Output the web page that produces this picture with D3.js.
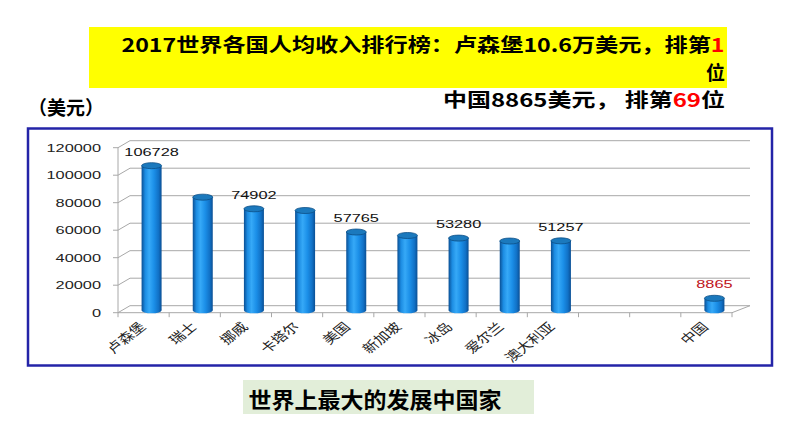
<!DOCTYPE html>
<html><head><meta charset="utf-8">
<script src="https://cdn.jsdelivr.net/npm/d3@7"></script>
<style>body{margin:0;background:#fff} svg{display:block}</style>
</head><body><div id="chart"></div>
<script>
// per-capita income, US$ (two empty slots before China, as in the slide)
const countries = ['卢森堡', '瑞士', '挪威', '卡塔尔', '美国', '新加坡', '冰岛', '爱尔兰', '澳大利亚', '', '', '中国'];
const incomes = [106728, 83500, 74902, 73650, 57765, 55200, 53280, 51100, 51257, null, null, 8865];
const labelled = ['卢森堡', '挪威', '美国', '冰岛', '澳大利亚', '中国'];
const yTicks = [0, 20000, 40000, 60000, 80000, 100000, 120000];

const W = 794, H = 447;
const CJK = '"Noto Sans CJK SC", "Noto Sans", sans-serif';
const LAT = '"Liberation Sans", Arial, sans-serif';
const svg = d3.select('#chart').append('svg').attr('width', W).attr('height', H);

// --- header texts
svg.append('rect').attr('x', 89).attr('y', 27).attr('width', 638).attr('height', 61).attr('fill', '#ffff00');
const t1 = svg.append('text').attr('x', 121.5).attr('y', 52).attr('font-family', CJK).attr('font-weight', 700)
  .attr('font-size', 19).attr('textLength', 603).attr('lengthAdjust', 'spacingAndGlyphs').attr('fill', '#000');
t1.append('tspan').text('2017世界各国人均收入排行榜：卢森堡10.6万美元，排第');
t1.append('tspan').attr('fill', '#ff0000').text('1');
svg.append('text').attr('x', 725).attr('y', 80).attr('text-anchor', 'end').attr('font-family', CJK)
  .attr('font-weight', 700).attr('font-size', 19).text('位');
const t3 = svg.append('text').attr('x', 443).attr('y', 107).attr('font-family', CJK).attr('font-weight', 700)
  .attr('font-size', 19).attr('textLength', 282).attr('lengthAdjust', 'spacingAndGlyphs');
t3.append('tspan').text('中国8865美元， 排第');
t3.append('tspan').attr('fill', '#ff0000').text('69');
t3.append('tspan').text('位');
svg.append('text').attr('x', 28).attr('y', 115).attr('font-family', CJK).attr('font-weight', 700)
  .attr('font-size', 19).attr('textLength', 76).attr('lengthAdjust', 'spacingAndGlyphs').text('（美元）');

// chart frame
svg.append('rect').attr('x', 28).attr('y', 128.5).attr('width', 744).attr('height', 237)
  .attr('fill', '#fff').attr('stroke', '#2424a8').attr('stroke-width', 2.5);

// --- 3d-ish plot
const x0 = 118, x1 = 732, dx = 12, dy = -7, backR = 750;
const x = d3.scaleBand().domain(d3.range(countries.length)).range([x0, x1]);
const y = d3.scaleLinear().domain([0, 120000]).range([312.7, 147.7]);
const yb = d3.scaleLinear().domain([0, 120000]).range([310.3, 147.7]); // bars sit mid-depth

const grid = svg.append('g').attr('stroke', '#a8a8a8').attr('stroke-width', 1);
yTicks.forEach(t => {
  grid.append('line').attr('x1', x0 + dx).attr('x2', backR).attr('y1', y(t) + dy).attr('y2', y(t) + dy);
  grid.append('line').attr('x1', x0).attr('x2', x0 + dx).attr('y1', y(t)).attr('y2', y(t) + dy);
  grid.append('line').attr('x1', x0 - 5).attr('x2', x0).attr('y1', y(t)).attr('y2', y(t));
});
grid.append('line').attr('x1', x0).attr('x2', x0).attr('y1', y(0)).attr('y2', y(120000));
grid.append('line').attr('x1', x0).attr('x2', x1).attr('y1', y(0)).attr('y2', y(0));
grid.append('line').attr('x1', x1).attr('x2', backR).attr('y1', y(0)).attr('y2', y(0) + dy);
d3.range(countries.length + 1).forEach(i => {
  const xx = x0 + i * x.step();
  grid.append('line').attr('x1', xx).attr('x2', xx).attr('y1', y(0)).attr('y2', y(0) + 4.5);
});

// y tick labels (source image is stretched sideways)
svg.append('g').selectAll('text').data(yTicks).join('text')
  .attr('transform', t => `translate(101,${y(t) + 4.2}) scale(1.42,1)`)
  .attr('text-anchor', 'end').attr('font-family', LAT).attr('font-size', 11.5).attr('fill', '#222')
  .text(t => t);

// cylinder gradient
const defs = svg.append('defs');
const g = defs.append('linearGradient').attr('id', 'cyl').attr('x1', 0).attr('x2', 1).attr('y1', 0).attr('y2', 0);
[[0, '#0a4f94'], [0.18, '#1c8ce2'], [0.38, '#36a9f7'], [0.62, '#1b8fe8'], [0.85, '#1171c6'], [1, '#0a4f94']]
  .forEach(([o, c]) => g.append('stop').attr('offset', o).attr('stop-color', c));

const data = countries.map((name, i) => ({ name, i, v: incomes[i] }));
const cx = d => x(d.i) + x.bandwidth() / 2 + 8;
const rx = 10, ry = 3;
const bars = svg.append('g').selectAll('g').data(data.filter(d => d.v != null)).join('g');
bars.append('ellipse').attr('cx', cx).attr('cy', yb(0)).attr('rx', rx).attr('ry', ry).attr('fill', 'url(#cyl)');
bars.append('rect').attr('x', d => cx(d) - rx).attr('width', rx * 2)
  .attr('y', d => yb(d.v)).attr('height', d => yb(0) - yb(d.v)).attr('fill', 'url(#cyl)');
bars.append('ellipse').attr('cx', cx).attr('cy', d => yb(d.v)).attr('rx', rx).attr('ry', ry)
  .attr('fill', '#1b79bd').attr('stroke', '#0d4f86').attr('stroke-width', 0.8);

// value labels
svg.append('g').selectAll('text').data(data.filter(d => labelled.includes(d.name))).join('text')
  .attr('transform', d => `translate(${cx(d)},${yb(d.v) - 10}) scale(1.42,1)`)
  .attr('text-anchor', 'middle').attr('font-family', LAT).attr('font-size', 11.5)
  .attr('fill', d => d.name === '中国' ? '#c0141c' : '#111').text(d => d.v);

// category labels, rotated
svg.append('g').selectAll('text').data(data.filter(d => d.name)).join('text')
  .attr('transform', d => `translate(${x(d.i) + x.bandwidth() / 2 + 3},${y(0) + 15}) scale(1.25,1) rotate(-45)`)
  .attr('text-anchor', 'end').attr('font-family', CJK).attr('font-size', 12.5).attr('fill', '#222')
  .text(d => d.name);

// footer box
svg.append('rect').attr('x', 243).attr('y', 380).attr('width', 291).attr('height', 34).attr('fill', '#e2eed9');
svg.append('text').attr('x', 248.5).attr('y', 408).attr('font-family', CJK).attr('font-weight', 700)
  .attr('font-size', 22).attr('textLength', 253).attr('lengthAdjust', 'spacingAndGlyphs').attr('fill', '#000')
  .text('世界上最大的发展中国家');
</script>
</body></html>
